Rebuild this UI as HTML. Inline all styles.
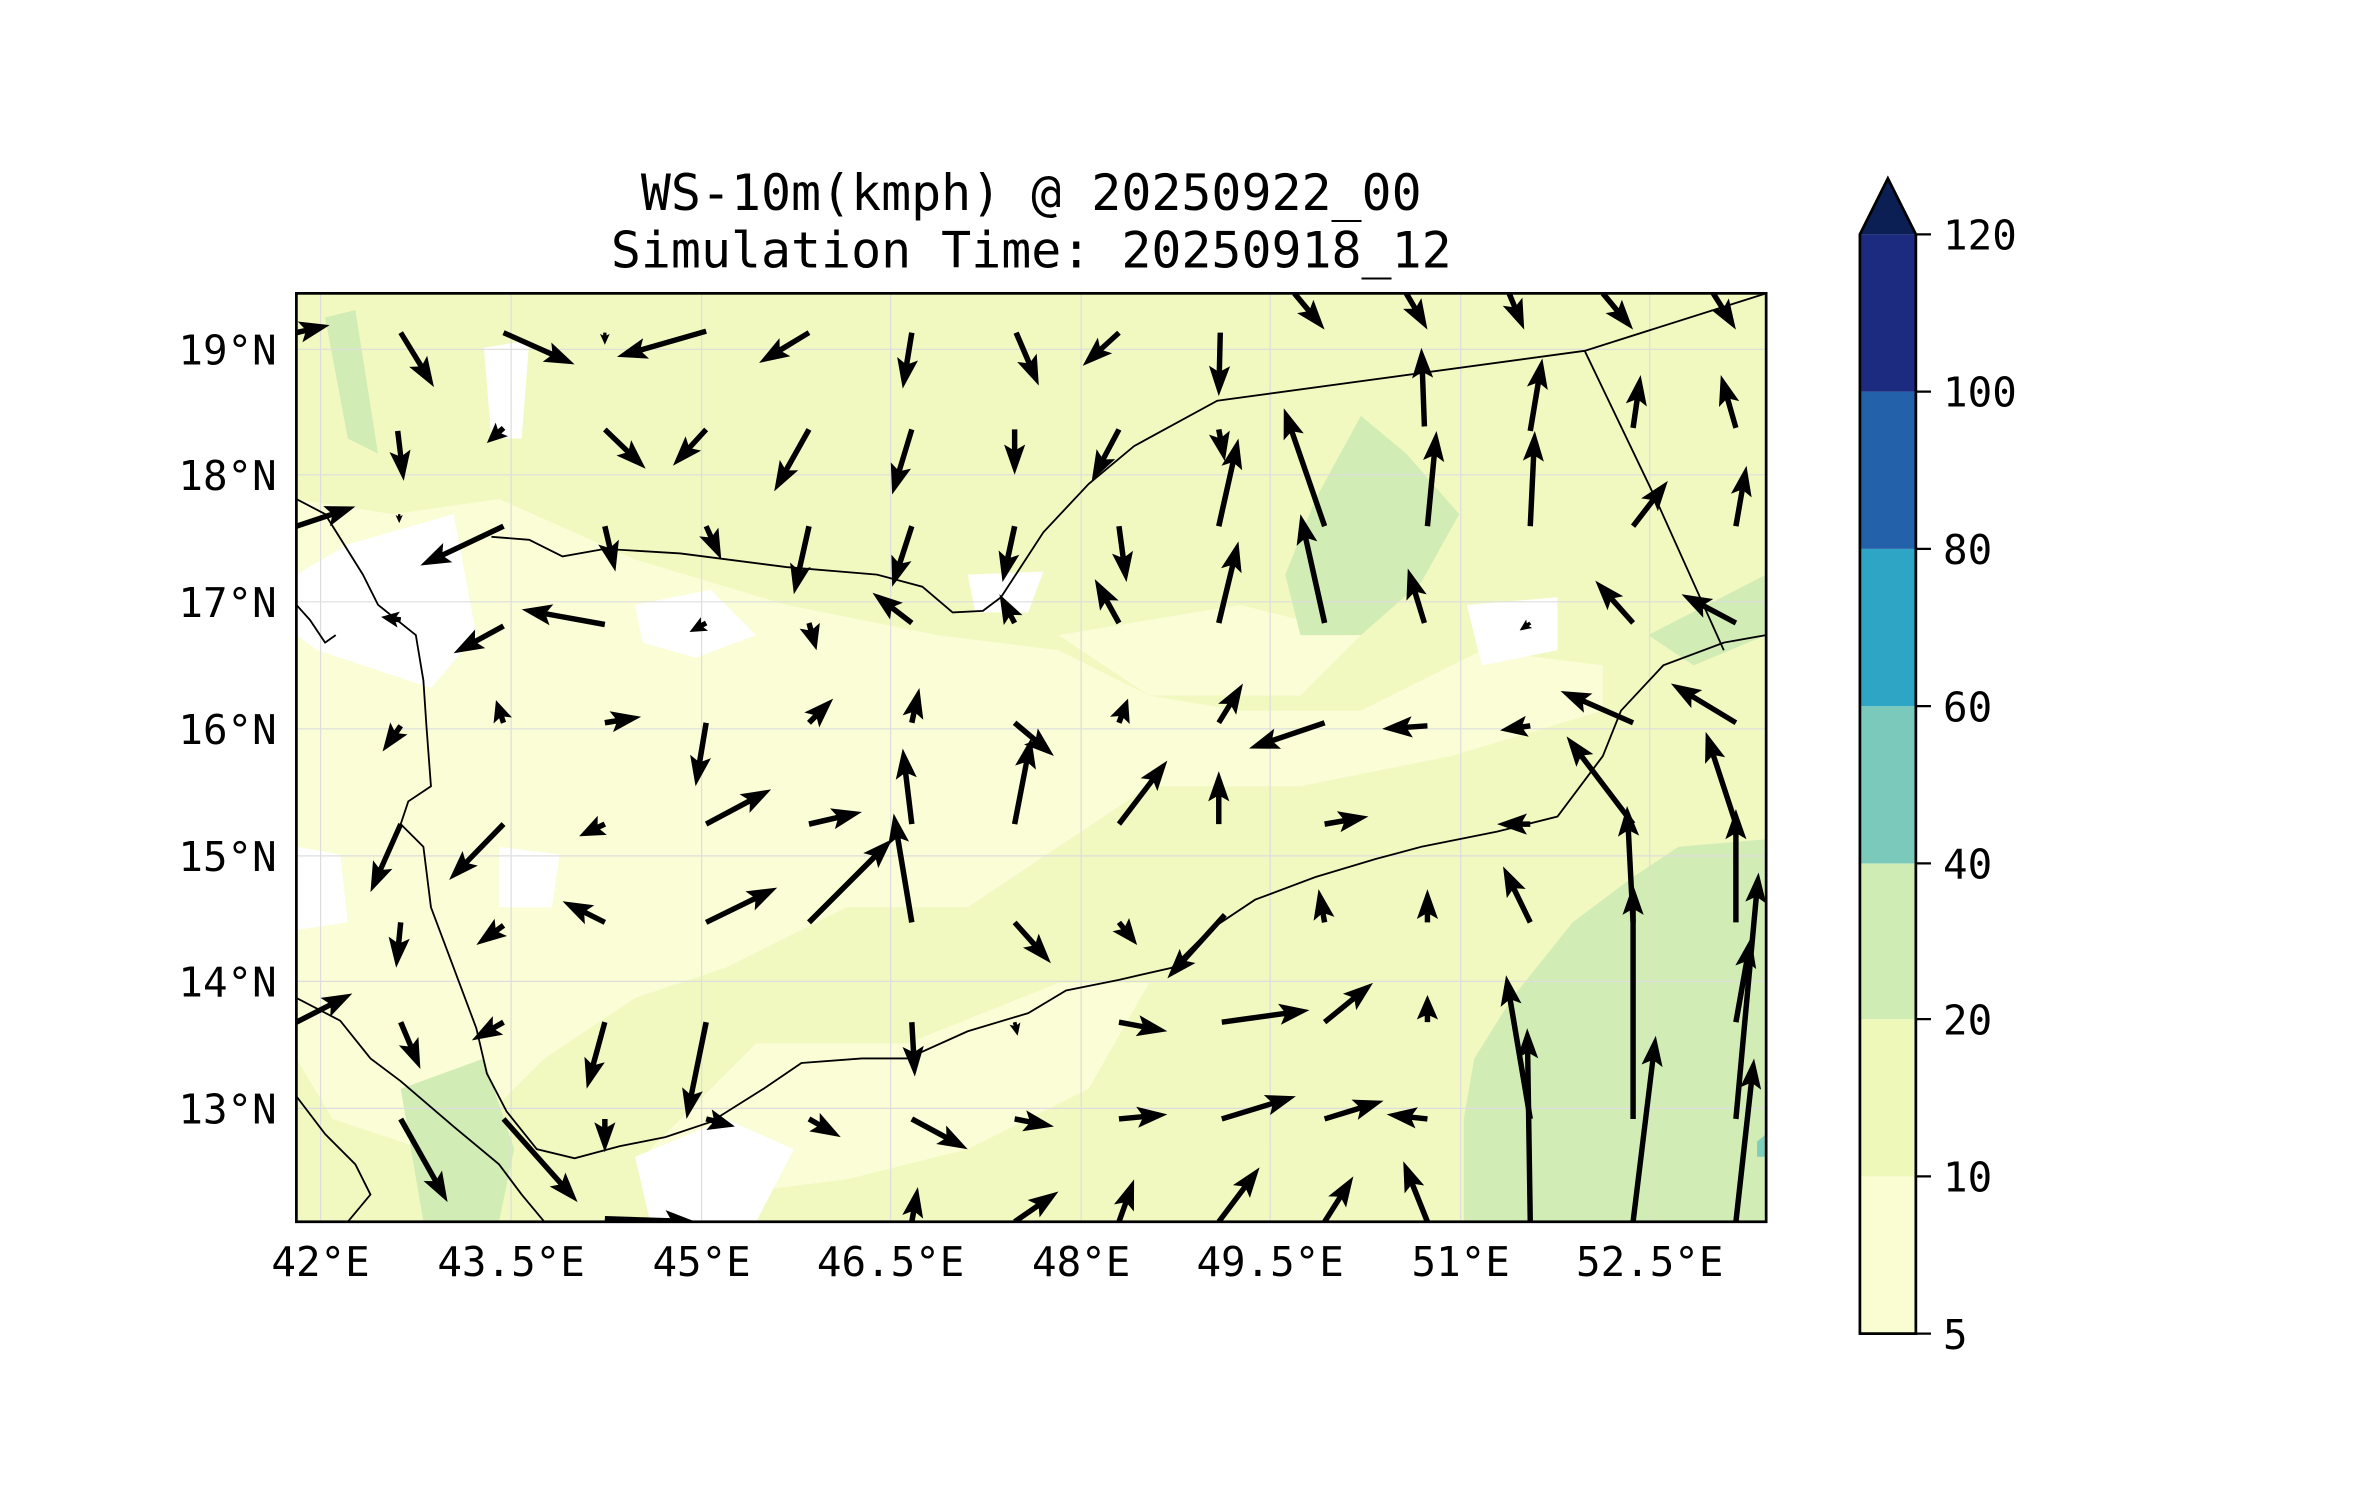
<!DOCTYPE html>
<html><head><meta charset="utf-8"><style>
html,body{margin:0;padding:0;background:#fff;}
svg{display:block;}
text{font-family:"DejaVu Sans Mono","Liberation Mono",monospace;fill:#000;}
</style></head><body>
<svg id="s" width="2371" height="1500" viewBox="0 0 1568 992" preserveAspectRatio="none" xmlns="http://www.w3.org/2000/svg">
<rect x="0" y="0" width="1568" height="992" fill="#fff"/>
<text x="682" y="139" font-size="33" text-anchor="middle">WS-10m(kmph) @ 20250922_00</text>
<text x="682" y="177" font-size="33" text-anchor="middle">Simulation Time: 20250918_12</text>
<defs><clipPath id="c"><rect x="196" y="194" width="972" height="614"/></clipPath></defs>
<g clip-path="url(#c)">
<rect x="196" y="194" width="972" height="614" fill="#f1f9c1"/>
<g fill="#fafdd5">
<path d="M196 330 L260 340 L330 330 L420 370 L520 400 L620 420 L700 430 L760 460 L820 470 L900 470 L980 430 L1060 440 L1060 470 L960 500 L860 520 L760 520 L700 560 L640 600 L560 600 L480 640 L420 660 L360 700 L320 740 L280 760 L220 740 L196 700 Z"/>
<path d="M500 690 L600 690 L700 650 L760 650 L720 720 L640 760 L560 780 L480 790 L420 770 Z"/>
<path d="M700 420 L820 400 L900 420 L860 460 L760 460 Z"/>
</g>
<g fill="#ffffff">
<path d="M230 360 L300 340 L315 420 L285 455 L240 440 L210 430 L196 420 L196 380 Z"/>
<path d="M420 765 L480 740 L525 760 L500 808 L430 808 Z"/>
<path d="M420 400 L470 390 L500 420 L460 435 L425 425 Z"/>
<path d="M330 560 L370 565 L365 600 L330 600 Z"/>
<path d="M196 560 L225 565 L230 610 L196 615 Z"/>
<path d="M970 400 L1030 395 L1030 430 L980 440 Z"/>
<path d="M320 230 L350 225 L345 290 L325 290 Z"/>
<path d="M640 380 L690 378 L680 405 L645 405 Z"/>
</g>
<g fill="#d2ecb5">
<path d="M968 808 L968 740 L975 700 L1000 660 L1040 610 L1080 580 L1110 560 L1168 555 L1168 808 Z"/>
<path d="M870 330 L900 275 L930 300 L965 340 L940 385 L900 420 L860 420 L850 380 Z"/>
<path d="M265 720 L320 700 L340 760 L330 808 L280 808 Z"/>
<path d="M215 210 L235 205 L250 300 L230 290 Z"/>
<path d="M1090 420 L1168 380 L1168 420 L1120 440 Z"/>
</g>
<path d="M1162 755 L1168 750 L1168 765 L1162 765Z" fill="#7fcdbb"/>
<g stroke="#ddd" stroke-width="0.8" fill="none">
<path d="M212 194V808M338 194V808M464 194V808M589 194V808M715 194V808M840 194V808M966 194V808M1091 194V808"/>
<path d="M196 231H1168M196 314H1168M196 398H1168M196 482H1168M196 566H1168M196 649H1168M196 733H1168"/>
</g>
<g stroke="#000" stroke-width="1.2" fill="none">
<path d="M325 355 L350 357 L372 368 L400 363 L450 366 L520 375 L580 380 L610 388 L630 405 L650 404 L662 395 L690 352 L720 320 L750 295 L805 265 L1048 232 L1168 194"/>
<path d="M1048 232 L1095 330 L1140 430"/>
<path d="M196 330 L215 340 L240 380 L250 400 L275 420 L280 450 L282 480 L285 520 L270 530 L265 545 L280 560 L285 600 L300 640 L315 680 L322 710 L335 735 L355 760 L380 766 L410 758 L440 752 L470 742 L505 720 L530 703 L570 700 L600 700 L640 682 L680 670 L705 655 L740 648 L775 640 L800 615 L830 595 L870 580 L910 568 L940 560 L990 550 L1030 540 L1060 500 L1072 470 L1100 440 L1140 425 L1168 420"/>
<path d="M196 660 L225 675 L245 700 L265 715 L300 745 L330 770 L345 790 L360 808"/>
<path d="M196 725 L215 750 L235 770 L245 790 L230 808"/>
<path d="M196 400 L205 410 L215 425 L222 420"/>
</g>
<g id="arr"></g>
</g>
<rect x="196" y="194" width="972" height="614" fill="none" stroke="#000" stroke-width="1.8"/>
<g font-size="27">
<text x="212" y="844" text-anchor="middle">42°E</text>
<text x="338" y="844" text-anchor="middle">43.5°E</text>
<text x="464" y="844" text-anchor="middle">45°E</text>
<text x="589" y="844" text-anchor="middle">46.5°E</text>
<text x="715" y="844" text-anchor="middle">48°E</text>
<text x="840" y="844" text-anchor="middle">49.5°E</text>
<text x="966" y="844" text-anchor="middle">51°E</text>
<text x="1091" y="844" text-anchor="middle">52.5°E</text>
<text x="183" y="241" text-anchor="end">19°N</text>
<text x="183" y="324" text-anchor="end">18°N</text>
<text x="183" y="408" text-anchor="end">17°N</text>
<text x="183" y="492" text-anchor="end">16°N</text>
<text x="183" y="576" text-anchor="end">15°N</text>
<text x="183" y="659" text-anchor="end">14°N</text>
<text x="183" y="743" text-anchor="end">13°N</text>
</g>
<g>
<rect x="1230" y="778" width="37" height="104" fill="#fafdd2"/>
<rect x="1230" y="674" width="37" height="104" fill="#eef8b9"/>
<rect x="1230" y="571" width="37" height="103" fill="#d0ecb5"/>
<rect x="1230" y="467" width="37" height="104" fill="#7ac9bb"/>
<rect x="1230" y="363" width="37" height="104" fill="#2ea5c5"/>
<rect x="1230" y="259" width="37" height="104" fill="#2362aa"/>
<rect x="1230" y="155" width="37" height="104" fill="#1c2b7f"/>
<path d="M1230 155 L1248.5 118 L1267 155 Z" fill="#0b1f55"/>
<path d="M1230 882 L1230 155 L1248.5 118 L1267 155 L1267 882 Z" fill="none" stroke="#000" stroke-width="1.8"/>
<path d="M1267 155h10M1267 259h10M1267 363h10M1267 467h10M1267 571h10M1267 674h10M1267 778h10M1267 882h10" stroke="#000" stroke-width="1.5"/>
<g font-size="27">
<text x="1285" y="165">120</text><text x="1285" y="269">100</text><text x="1285" y="373">80</text><text x="1285" y="477">60</text><text x="1285" y="581">40</text><text x="1285" y="684">20</text><text x="1285" y="788">10</text><text x="1285" y="892">5</text>
</g>
</g>
</svg>
<script>
var A=[[196,220,218,215],[265,220,287,256],[333,220,380,241],[400,220,400,228],[467,219,408,236],[535,220,502,240],[603,220,597,257],[672,220,687,255],[740,220,716,242],[807,220,806,262],[856,194,876,218],[930,194,944,218],[998,194,1008,218],[1060,194,1080,218],[1133,194,1148,218],
[263,285,267,318],[333,283,322,293],[400,284,427,310],[467,284,445,308],[535,284,512,325],[603,284,590,327],[671,284,671,314],[740,284,722,318],[806,284,810,305],[806,348,819,290],[876,348,849,270],[942,282,940,230],[944,348,950,285],[1012,348,1015,285],[1012,285,1020,237],[1080,283,1085,248],[1148,283,1138,248],[1148,348,1155,308],[1080,348,1103,318],
[196,348,235,335],[333,348,278,374],[400,348,407,378],[467,348,477,370],[535,348,525,393],[603,348,590,388],[671,348,663,385],[740,348,745,385],[806,412,819,358],[876,412,860,340],[264,340,264,346],
[333,414,300,432],[400,413,345,403],[265,410,252,408],[467,412,456,418],[535,412,540,430],[603,412,577,392],[671,412,661,393],[740,412,724,383],[942,412,931,376],[1012,412,1005,417],[1080,412,1055,384],[1148,412,1112,393],
[265,480,253,497],[333,478,328,463],[400,478,424,474],[467,478,460,520],[535,478,551,462],[603,478,608,455],[671,478,697,500],[740,478,746,462],[806,478,822,452],[876,478,826,495],[944,480,914,482],[1012,480,992,483],[1080,478,1032,457],[1148,478,1105,452],
[265,545,245,590],[333,545,297,582],[400,545,383,553],[467,545,510,522],[535,545,570,537],[603,545,597,495],[671,545,682,488],[740,545,772,503],[806,545,806,510],[876,545,905,540],[1012,545,990,545],[1080,545,1036,487],[1148,545,1128,484],
[265,610,262,640],[333,612,315,625],[400,610,372,596],[467,610,514,587],[535,610,590,555],[603,610,591,538],[671,610,695,637],[740,610,752,625],[810,605,772,647],[876,610,872,588],[944,610,944,588],[1012,610,994,573],[1080,610,1076,533],[1148,610,1148,535],
[196,676,233,657],[265,676,278,707],[333,676,312,688],[400,676,388,720],[467,676,454,740],[671,676,673,685],[603,676,605,712],[740,676,772,682],[808,676,866,668],[876,676,908,650],[944,676,944,658],[1012,740,996,645],[1012,808,1010,680],[1080,740,1080,585],[1148,740,1163,577],[1148,676,1158,620],[1080,808,1095,685],[1148,808,1160,700],
[265,740,296,795],[333,740,382,795],[400,740,400,762],[467,740,486,745],[535,740,556,752],[603,740,640,760],[671,740,697,745],[740,740,772,737],[808,740,857,725],[876,740,915,728],[944,740,917,737],
[400,806,460,808],[603,808,607,785],[671,808,700,788],[740,808,750,780],[806,808,833,772],[876,808,895,778],[944,808,928,768]];
var g=document.getElementById('arr'),s='';
A.forEach(function(a){var dx=a[2]-a[0],dy=a[3]-a[1],L=Math.sqrt(dx*dx+dy*dy);if(L<1)return;
var ux=dx/L,uy=dy/L,px=-uy,py=ux;var hl=Math.min(20,L*0.9),hw=Math.min(7,hl*0.45),sw=1.8*Math.min(1,hl/12);
var bx=a[2]-ux*hl*0.85,by=a[3]-uy*hl*0.85,cx=a[2]-ux*hl,cy=a[3]-uy*hl;
var p=[[a[0]+px*sw,a[1]+py*sw],[bx+px*sw,by+py*sw],[cx+px*hw,cy+py*hw],[a[2],a[3]],[cx-px*hw,cy-py*hw],[bx-px*sw,by-py*sw],[a[0]-px*sw,a[1]-py*sw]];
s+='<path d="M'+p.map(function(q){return q[0].toFixed(1)+' '+q[1].toFixed(1)}).join(' L')+'Z" fill="#000"/>';});
g.innerHTML=s;
</script>
</body></html>
